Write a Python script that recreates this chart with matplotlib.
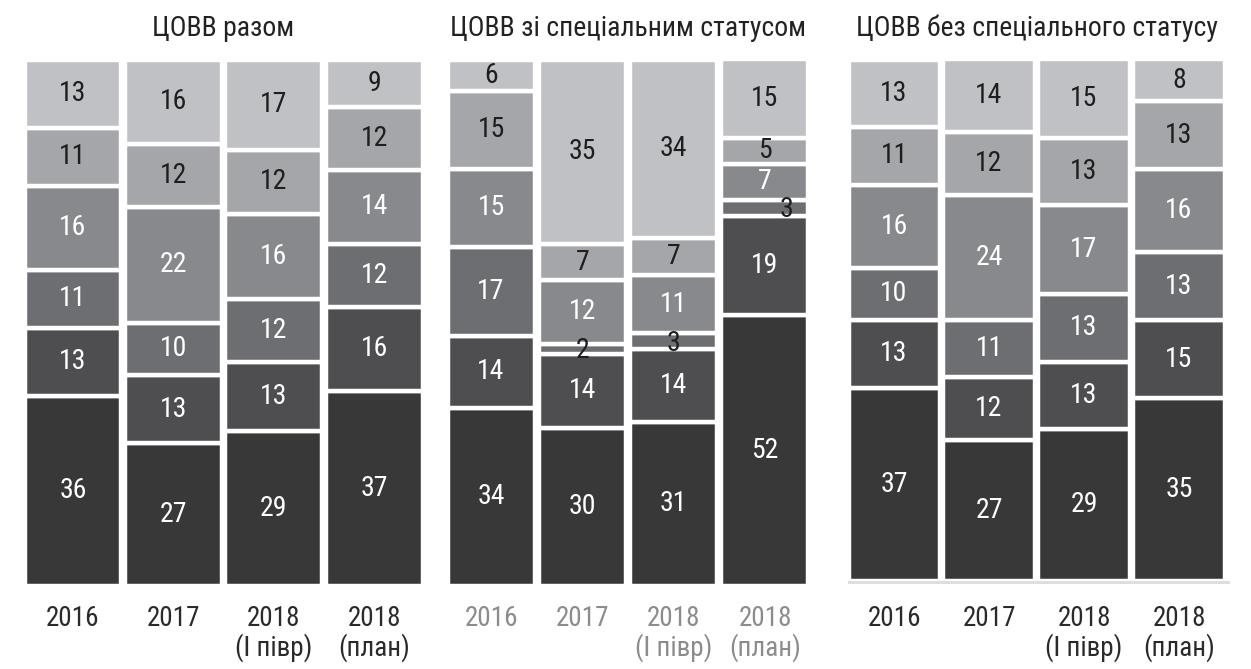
import matplotlib
matplotlib.use("Agg")
import matplotlib.pyplot as plt
from matplotlib import font_manager

# ---------------- data ----------------
titles = ["ЦОВВ разом", "ЦОВВ зі спеціальним статусом", "ЦОВВ без спеціального статусу"]
tick_labels = ["2016", "2017", "2018\n(І півр)", "2018\n(план)"]

# each row = one bar, values from bottom segment to top segment
total_vals = [
    [36, 13, 11, 16, 11, 13],
    [27, 13, 10, 22, 12, 16],
    [29, 13, 12, 16, 12, 17],
    [37, 16, 12, 14, 12, 9],
]
special_vals = [
    [34, 14, 17, 15, 15, 6],
    [30, 14, 2, 12, 7, 35],
    [31, 14, 3, 11, 7, 34],
    [52, 19, 3, 7, 5, 15],
]
nonspecial_vals = [
    [37, 13, 10, 16, 11, 13],
    [27, 12, 11, 24, 12, 14],
    [29, 13, 13, 17, 13, 15],
    [35, 15, 13, 16, 13, 8],
]
panels_data = [total_vals, special_vals, nonspecial_vals]

seg_colors = ["#383838", "#4e4e50", "#6d6e71", "#88898d", "#a5a6a9", "#c0c1c5"]
label_colors = ["white", "white", "white", "white", "#1e1e1e", "#1e1e1e"]

# ---------------- fonts ----------------
avail = {f.name for f in font_manager.fontManager.ttflist}
fam = [f for f in ["Liberation Sans Narrow", "Roboto Condensed", "Liberation Sans", "DejaVu Sans"] if f in avail]
plt.rcParams["font.family"] = fam

W, H = 1251, 669
fig = plt.figure(figsize=(W / 100, H / 100), dpi=100)

# axes extents in pixels: left, right, top, bottom, pitch, width(frac of pitch), tick pad
layout = [
    (24.5, 422.5, 59.5, 585.5, 100.67, 0.9636, 14),
    (447.5, 808.5, 59.5, 585.5, 91.33, 0.9526, 14),
    (848.5, 1224.5, 59.5, 580.5, 95.0, 0.958, 17.6),
]
tick_colors = ["#2a2a2a", "#8c8c8c", "#2a2a2a"]

for p, (vals, (l, r, t, b, pitch, w, pad)) in enumerate(zip(panels_data, layout)):
    ax = fig.add_axes([l / W, 1 - b / H, (r - l) / W, (b - t) / H])
    for i, bar in enumerate(vals):
        tot = float(sum(bar))
        bottom = 0.0
        for j, v in enumerate(bar):
            h = v / tot * 100
            ax.bar(i, h, width=w, bottom=bottom, color=seg_colors[j],
                   edgecolor="white", linewidth=3.2)
            cx, cy = i, bottom + h / 2
            col = label_colors[j]
            if v <= 3:
                col = "#1e1e1e"
                if i == 3:
                    cx = i + 0.23
                    cy = bottom + h / 2 - 0.3
                else:
                    cy = bottom + h / 2 - 0.4
            ax.text(cx, cy, str(v), ha="center", va="center", fontsize=20,
                    color=col, zorder=5)
            bottom += h
    ax.set_xlim(-w / 2, 3 + w / 2)
    ax.set_ylim(0, 100)
    for s in ax.spines.values():
        s.set_visible(False)
    ax.set_xticks(range(4))
    ax.set_xticklabels(tick_labels, fontsize=19.5, color=tick_colors[p],
                       linespacing=1.05, va="top")
    ax.tick_params(axis="x", length=0, pad=pad)
    ax.set_yticks([])
    if p == 2:
        ax.axhline(-0.3, color="#dedede", lw=2.2, xmin=0, xmax=1.01, clip_on=False, zorder=0)
    fig.text(((l + r) / 2) / W, 1 - 28 / H, titles[p], ha="center", va="center",
             fontsize=20, color="#222222")

fig.savefig("out.png", dpi=100)
